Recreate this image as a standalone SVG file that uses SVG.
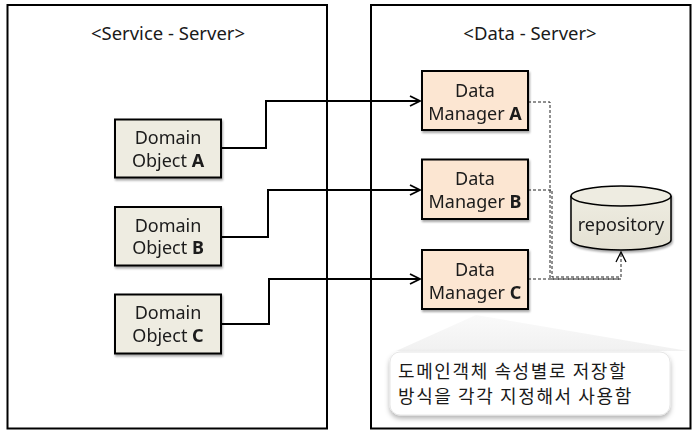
<svg xmlns="http://www.w3.org/2000/svg" width="700" height="440" viewBox="0 0 700 440">
<style>
text{font-family:"Noto Sans","Noto Sans CJK KR",sans-serif;fill:#1a1a1a;text-anchor:middle}
.t{font-size:18px}
.h{font-size:18.5px}
.b{font-weight:bold}
.k{font-family:"Noto Sans CJK KR",sans-serif;font-size:18px;letter-spacing:1.6px;text-anchor:start}
.frame{fill:#fff;stroke:#000;stroke-width:2}
.dom{fill:#EEECE1;stroke:#000;stroke-width:2}
.dm{fill:#FCE6D2;stroke:#000;stroke-width:2}
.con{fill:none;stroke:#000;stroke-width:2}
.dash{fill:none;stroke:#222;stroke-width:1;stroke-dasharray:3 2}
</style>
<defs>
<marker id="arr" viewBox="0 0 12 12" refX="11" refY="6" markerWidth="12" markerHeight="12" markerUnits="userSpaceOnUse" orient="auto">
<path d="M1,1 L11,6 L1,11" fill="none" stroke="#000" stroke-width="1.8"/>
</marker>
<marker id="arr2" viewBox="0 0 12 12" refX="11" refY="6" markerWidth="12" markerHeight="12" markerUnits="userSpaceOnUse" orient="auto">
<path d="M1,1 L11,6 L1,11" fill="none" stroke="#000" stroke-width="1.3"/>
</marker>
<filter id="sh" x="-10%" y="-10%" width="130%" height="140%">
<feDropShadow dx="1" dy="2" stdDeviation="1.2" flood-color="#000" flood-opacity="0.35"/>
</filter>
<filter id="sh2" x="-10%" y="-20%" width="120%" height="160%">
<feDropShadow dx="0" dy="3" stdDeviation="2.5" flood-color="#000" flood-opacity="0.3"/>
</filter>
<linearGradient id="tri" x1="0" y1="0" x2="0" y2="1">
<stop offset="0" stop-color="#fafafa"/>
<stop offset="1" stop-color="#f1f1f1"/>
</linearGradient>
<linearGradient id="cyl" x1="0" y1="0" x2="0" y2="1">
<stop offset="0" stop-color="#EEECE1"/>
<stop offset="1" stop-color="#E4E1D3"/>
</linearGradient>
</defs>

<g id="service-server">
<rect class="frame" x="7.5" y="5" width="319.5" height="423.5"/>
<text x="168" y="40" class="h">&lt;Service - Server&gt;</text>
</g>
<g id="data-server">
<rect class="frame" x="371" y="5" width="319.5" height="423.5"/>
<text x="530" y="40" class="h">&lt;Data - Server&gt;</text>
</g>

<g id="connectors">
<path class="con" d="M221,148 H266 V101 H420" marker-end="url(#arr)"/>
<path class="con" d="M221,237 H268 V190 H420" marker-end="url(#arr)"/>
<path class="con" d="M221,324 H269 V279 H420" marker-end="url(#arr)"/>
<path class="dash" d="M528,102 H550 V279 H621"/>
<path class="dash" d="M528,190 H552 V277 H621"/>
<path class="dash" d="M528,279 H621 V252" marker-end="url(#arr2)"/>
</g>

<g id="domain-a" filter="url(#sh)">
<rect class="dom" x="115" y="119.5" width="106" height="58"/>
<text x="168" y="144" class="t">Domain</text>
<text x="168" y="166.5" class="t">Object <tspan class="b">A</tspan></text>
</g>
<g id="domain-b" filter="url(#sh)">
<rect class="dom" x="115" y="207" width="106" height="58.5"/>
<text x="168" y="231.5" class="t">Domain</text>
<text x="168" y="254" class="t">Object <tspan class="b">B</tspan></text>
</g>
<g id="domain-c" filter="url(#sh)">
<rect class="dom" x="115" y="294.5" width="106" height="59"/>
<text x="168" y="319" class="t">Domain</text>
<text x="168" y="341.5" class="t">Object <tspan class="b">C</tspan></text>
</g>

<g id="manager-a" filter="url(#sh)">
<rect class="dm" x="422" y="71" width="106" height="59"/>
<text x="475" y="96.5" class="t">Data</text>
<text x="475" y="119.5" class="t">Manager <tspan class="b">A</tspan></text>
</g>
<g id="manager-b" filter="url(#sh)">
<rect class="dm" x="422" y="159.5" width="106" height="59.5"/>
<text x="475" y="185" class="t">Data</text>
<text x="475" y="208" class="t">Manager <tspan class="b">B</tspan></text>
</g>
<g id="manager-c" filter="url(#sh)">
<rect class="dm" x="422" y="250" width="106" height="59"/>
<text x="475" y="275.5" class="t">Data</text>
<text x="475" y="298.5" class="t">Manager <tspan class="b">C</tspan></text>
</g>

<g id="repository" filter="url(#sh)">
<path d="M571,196 V240 A50,10 0 0 0 671,240 V196" fill="url(#cyl)" stroke="#000" stroke-width="1.5"/>
<ellipse cx="621" cy="196" rx="50" ry="10" fill="#EEECE1" stroke="#000" stroke-width="1.5"/>
<text x="621" y="231" class="t">repository</text>
</g>

<g id="note">
<polygon points="396,351 476,315 688,351" fill="url(#tri)"/>
<rect x="390" y="352" width="280" height="63" rx="10" ry="10" fill="#fff" stroke="#e6e6e6" stroke-width="1" filter="url(#sh2)"/>
<text class="k" x="398" y="378"><tspan x="398" y="378">도메인객체 속성별로 저장할</tspan><tspan x="398" y="403">방식을 각각 지정해서 사용함</tspan></text>
</g>
</svg>
